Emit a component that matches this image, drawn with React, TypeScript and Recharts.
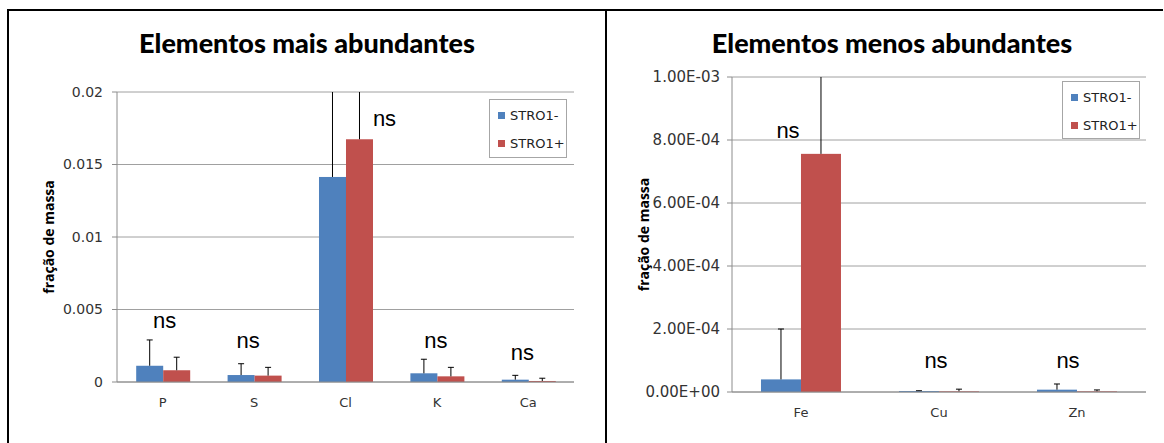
import { BarChart, Bar, XAxis, YAxis, CartesianGrid, ReferenceDot } from "recharts"

// Elementos mais abundantes
const maisCategorias = ["P", "S", "Cl", "K", "Ca"]
const maisStroNeg = [0.00112, 0.00048, 0.01414, 0.0006, 0.00016]
const maisStroNegErr = [0.00178, 0.00078, 0.0075, 0.00097, 0.0003]
const maisStroPos = [0.00081, 0.00044, 0.01674, 0.00039, 0.00007]
const maisStroPosErr = [0.0009, 0.00057, 0.0065, 0.00062, 0.00019]
const maisTicks = [0, 0.005, 0.01, 0.015, 0.02]
const maisNs = [0.00423, 0.00283, 0.01819, 0.00285, 0.00202]

// Elementos menos abundantes
const menosCategorias = ["Fe", "Cu", "Zn"]
const menosStroNeg = [0.00004, 0.000003, 0.0000074]
const menosStroNegErr = [0.00016, 0.000001, 0.000018]
const menosStroPos = [0.000756, 0.000002, 0.000002]
const menosStroPosErr = [0.0004, 0.000007, 0.0000045]
const menosTicks = [0, 0.0002, 0.0004, 0.0006, 0.0008, 0.001]
const menosNs = [0.000829, 0.0000985, 0.0000985]

const serieNomes = ["STRO1-", "STRO1+"]
const AZUL = "#4F81BD"
const VERMELHO = "#C0504D"

const buildRows = (cats: string[], neg: number[], negErr: number[], pos: number[], posErr: number[]) =>
  cats.map((cat, i) => ({ cat, neg: neg[i], negErr: negErr[i], pos: pos[i], posErr: posErr[i] }))

const maisData = buildRows(maisCategorias, maisStroNeg, maisStroNegErr, maisStroPos, maisStroPosErr)
const menosData = buildRows(menosCategorias, menosStroNeg, menosStroNegErr, menosStroPos, menosStroPosErr)

const fmtExp = (v: number) => {
  const [m, e] = v.toExponential(2).split("e")
  const n = parseInt(e, 10)
  return `${m}E${n < 0 ? "-" : "+"}${String(Math.abs(n)).padStart(2, "0")}`
}

// bar + upward-only error bar, clipped at the top of the plot area
const barComErro = (errKey: string, yMax: number) => (props: any) => {
  const { x, y, width, height, fill, payload, background } = props
  const err = payload[errKey]
  const plotTop = background.y
  const cx = x + width / 2
  const rawTop = y - (err / yMax) * background.height
  const top = Math.max(rawTop, plotTop)
  return (
    <g>
      <rect x={x} y={y} width={width} height={height} fill={fill} />
      <line x1={cx} y1={y} x2={cx} y2={top} stroke="#000" strokeWidth={1} />
      {rawTop >= plotTop && (
        <line x1={cx - 3} y1={top} x2={cx + 3} y2={top} stroke="#000" strokeWidth={1} />
      )}
    </g>
  )
}

const nsLabel = (dx: number) => (p: any) => (
  <text
    x={p.viewBox.x + dx}
    y={p.viewBox.y}
    textAnchor="middle"
    dominantBaseline="central"
    fontFamily="'Liberation Sans', Arial, sans-serif"
    fontSize={22}
    fill="#000"
  >
    ns
  </text>
)

const yLabel = (dx: number) => (p: any) => {
  const cx = p.viewBox.x + dx
  const cy = p.viewBox.y + p.viewBox.height / 2
  return (
    <text
      x={cx}
      y={cy}
      transform={`rotate(-90 ${cx} ${cy})`}
      textAnchor="middle"
      dominantBaseline="central"
      fontFamily="'Open Sans', sans-serif"
      fontWeight="bold"
      fontSize={14}
      fill="#000"
    >
      fração de massa
    </text>
  )
}

const tickStyle = { fontFamily: "'DejaVu Sans', sans-serif", fontSize: 13, fill: "#333" }

const Legenda = ({ left, top, width, height }: any) => (
  <div
    style={{
      position: "absolute",
      left,
      top,
      width,
      height,
      boxSizing: "border-box",
      border: "1px solid #a6a6a6",
      background: "#fff",
      paddingTop: 1,
    }}
  >
    {serieNomes.map((nome, i) => (
      <div key={nome} style={{ display: "flex", alignItems: "center", height: 28.5, paddingLeft: 8 }}>
        <span style={{ width: 7, height: 7, background: i === 0 ? AZUL : VERMELHO, marginRight: 5 }} />
        <span style={{ fontFamily: "'DejaVu Sans', sans-serif", fontSize: 13, color: "#222" }}>{nome}</span>
      </div>
    ))}
  </div>
)

const Titulo = ({ cx, children }: any) => (
  <div
    style={{
      position: "absolute",
      left: cx - 250,
      width: 500,
      top: 27,
      textAlign: "center",
      fontFamily: "Lato, sans-serif",
      fontWeight: 900,
      fontSize: 27,
      lineHeight: "32px",
      color: "#000",
    }}
  >
    {children}
  </div>
)

const nsDxMais = [2, -6, 39, -1, -6]
const nsDxMenos = [-13, -3, -9]

export default function App() {
  return (
    <div style={{ position: "fixed", left: 0, top: 0, width: 1164, height: 443, background: "#fff", overflow: "hidden" }}>
      {/* moldura */}
      <div style={{ position: "absolute", left: 7, top: 9, width: 1156, height: 1.5, background: "#000" }} />
      <div style={{ position: "absolute", left: 7, top: 9, width: 2, height: 434, background: "#000" }} />
      <div style={{ position: "absolute", left: 605, top: 9, width: 2, height: 434, background: "#000" }} />

      <div style={{ position: "absolute", left: 0, top: 0 }}>
        <BarChart
          width={606}
          height={443}
          data={maisData}
          margin={{ top: 92, right: 32, bottom: 31, left: 40 }}
          barCategoryGap="21%"
          barGap={0}
        >
          <CartesianGrid vertical={false} stroke="#a0a0a0" />
          <XAxis
            dataKey="cat"
            height={30}
            tickLine={false}
            tickSize={0}
            tickMargin={16}
            axisLine={{ stroke: "#8c8c8c" }}
            tick={tickStyle}
          />
          <YAxis
            type="number"
            width={77}
            domain={[0, 0.02]}
            ticks={maisTicks}
            allowDataOverflow
            tickFormatter={(v) => String(v)}
            tickSize={5}
            tickMargin={9}
            tickLine={{ stroke: "#8c8c8c" }}
            axisLine={{ stroke: "#8c8c8c" }}
            tick={{ ...tickStyle, fontSize: 14 }}
            label={yLabel(8)}
          />
          <Bar dataKey="neg" name={serieNomes[0]} fill={AZUL} isAnimationActive={false} shape={barComErro("negErr", 0.02)} />
          <Bar dataKey="pos" name={serieNomes[1]} fill={VERMELHO} isAnimationActive={false} shape={barComErro("posErr", 0.02)} />
          {maisCategorias.map((c, i) => (
            <ReferenceDot key={c} x={c} y={maisNs[i]} r={0} fill="none" stroke="none" label={nsLabel(nsDxMais[i])} />
          ))}
        </BarChart>
      </div>

      <div style={{ position: "absolute", left: 606, top: 0 }}>
        <BarChart
          width={558}
          height={443}
          data={menosData}
          margin={{ top: 77, right: 18, bottom: 21, left: 30 }}
          barCategoryGap="21%"
          barGap={0}
        >
          <CartesianGrid vertical={false} stroke="#a0a0a0" />
          <XAxis
            dataKey="cat"
            height={30}
            tickLine={false}
            tickSize={0}
            tickMargin={16}
            axisLine={{ stroke: "#8c8c8c" }}
            tick={tickStyle}
          />
          <YAxis
            type="number"
            width={96}
            domain={[0, 0.001]}
            ticks={menosTicks}
            allowDataOverflow
            tickFormatter={fmtExp}
            tickSize={5}
            tickMargin={7}
            tickLine={{ stroke: "#8c8c8c" }}
            axisLine={{ stroke: "#8c8c8c" }}
            tick={{ ...tickStyle, fontSize: 15 }}
            label={yLabel(7)}
          />
          <Bar dataKey="neg" name={serieNomes[0]} fill={AZUL} isAnimationActive={false} shape={barComErro("negErr", 0.001)} />
          <Bar dataKey="pos" name={serieNomes[1]} fill={VERMELHO} isAnimationActive={false} shape={barComErro("posErr", 0.001)} />
          {menosCategorias.map((c, i) => (
            <ReferenceDot key={c} x={c} y={menosNs[i]} r={0} fill="none" stroke="none" label={nsLabel(nsDxMenos[i])} />
          ))}
        </BarChart>
      </div>

      <Titulo cx={307}>Elementos mais abundantes</Titulo>
      <Titulo cx={892}>Elementos menos abundantes</Titulo>

      <Legenda left={489} top={99} width={78} height={59} />
      <Legenda left={1062} top={81} width={78} height={58} />
    </div>
  )
}
